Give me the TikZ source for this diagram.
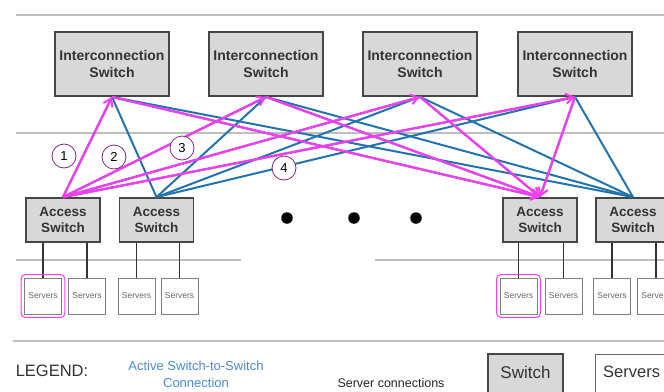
\documentclass[tikz,border=0pt]{standalone}
\usepackage{fontspec}
\setmainfont{Liberation Sans}
\usetikzlibrary{arrows.meta,fit}
\definecolor{boxfill}{RGB}{216,216,216}
\definecolor{boxline}{RGB}{70,70,70}
\definecolor{sepline}{RGB}{190,190,190}
\definecolor{linkblue}{RGB}{35,115,175}
\definecolor{pathpink}{RGB}{242,62,240}
\definecolor{tagpurple}{RGB}{130,40,130}
\definecolor{legendblue}{RGB}{70,140,210}
\tikzset{
  icswitch/.style={draw=boxline, line width=1.8pt, fill=boxfill, minimum width=114pt, minimum height=64pt,
    inner sep=0pt, align=center, font=\fontsize{14}{17}\selectfont\bfseries, text=black!80},
  acswitch/.style={draw=boxline, line width=1.8pt, fill=boxfill, minimum width=74pt, minimum height=44pt,
    inner sep=0pt, align=center, font=\fontsize{13.5}{16}\selectfont\bfseries, text=black!80},
  srv/.style={draw=black!50, line width=0.7pt, fill=white, minimum width=37pt, minimum height=36pt,
    inner sep=0pt, font=\fontsize{8.5}{9}\selectfont, text=black!60},
  srvlink/.style={draw=black!80, line width=1.4pt},
  sep/.style={draw=sepline, line width=2.6pt},
  link/.style={draw=linkblue, line width=2pt},
  path/.style={draw=pathpink, line width=2.3pt, -{Straight Barb[length=7.5pt,width=10pt,line width=2pt]}},
  tag/.style={draw=tagpurple, line width=0.8pt, circle, minimum size=24pt, inner sep=0pt,
    font=\fontsize{13}{13}\selectfont, fill=white},
  hilite/.style={draw=pathpink, line width=1pt, rounded corners=4pt, inner sep=3pt},
  dotmark/.style={fill=black, circle, minimum size=11.5pt, inner sep=0pt},
}
\begin{document}
\begin{tikzpicture}[x=1pt,y=-1pt]
\useasboundingbox (0,0) rectangle (664,391);
\fill[white] (0,0) rectangle (664,391);

% tier separators
\coordinate (s1a) at (16,15);   \coordinate (s1b) at (664,15);
\coordinate (s2a) at (16,133);  \coordinate (s2b) at (664,133);
\coordinate (s3a) at (16,260);  \coordinate (s3b) at (241,260);
\coordinate (s4a) at (375,260); \coordinate (s4b) at (664,260);
\coordinate (s5a) at (13,341);  \coordinate (s5b) at (664,341);
\draw[sep] (s1a) -- (s1b);
\draw[sep] (s2a) -- (s2b);
\draw[sep] (s3a) -- (s3b);
\draw[sep] (s4a) -- (s4b);
\draw[sep] (s5a) -- (s5b);

% interconnection tier
\node[icswitch] (I1) at (112,64) {Interconnection\\Switch};
\node[icswitch] (I2) at (266,64) {Interconnection\\Switch};
\node[icswitch] (I3) at (420,64) {Interconnection\\Switch};
\node[icswitch] (I4) at (575,64) {Interconnection\\Switch};

% access tier
\node[acswitch] (A1) at (63,220) {Access\\Switch};
\node[acswitch] (A2) at (156.5,220) {Access\\Switch};
\node[acswitch] (A3) at (540,220) {Access\\Switch};
\node[acswitch] (A4) at (633,220) {Access\\Switch};

% servers
\node[srv] (S1) at (43,296) {Servers};
\node[srv] (S2) at (87,296) {Servers};
\node[srv] (S3) at (136.5,296) {Servers};
\node[srv] (S4) at (179.5,296) {Servers};
\node[srv] (S5) at (518.5,296) {Servers};
\node[srv] (S6) at (563.5,296) {Servers};
\node[srv] (S7) at (612,296) {Servers};
\node[srv] (S8) at (656,296) {Servers};

\foreach \s/\a in {S1/A1,S2/A1,S3/A2,S4/A2,S5/A3,S6/A3,S7/A4,S8/A4}
  \draw[srvlink] (\s.north) -- (\s.north |- \a.south);

\node[hilite, fit=(S1)] (H1) {};
\node[hilite, fit=(S5)] (H5) {};

% full mesh between tiers
\foreach \a in {A1,A2,A3,A4}
  \foreach \i in {I1,I2,I3,I4}
    \draw[link] (\a.north) -- (\i.south);

% four equal-cost paths
\foreach \i in {I1,I2,I3,I4} {
  \draw[path] (A1.north) -- (\i.south);
  \draw[path] (\i.south) -- (A3.north);
}

\node[tag] (T1) at (64,156) {1};
\node[tag] (T2) at (114,157) {2};
\node[tag] (T3) at (182,148) {3};
\node[tag] (T4) at (284,168) {4};

% ellipsis between access switches
\node[dotmark] (D1) at (287,218) {};
\node[dotmark] (D2) at (354,218) {};
\node[dotmark] (D3) at (416,218) {};

% legend
\node[font=\fontsize{16.5}{18}\selectfont, text=black!80] (L0) at (52,371) {LEGEND:};
\node[font=\fontsize{13}{17}\selectfont, text=legendblue, align=center] (L1) at (196,374) {Active Switch-to-Switch\\Connection};
\node[font=\fontsize{12.5}{14}\selectfont, text=black!85] (L2) at (391,383) {Server connections};
\node[draw=boxline, line width=1.8pt, fill=boxfill, minimum width=75pt, minimum height=46pt,
  inner sep=0pt] (L3) at (525.5,377) {};
\node[font=\fontsize{17}{18}\selectfont, text=black!80] (L3t) at (525.5,372) {Switch};
\node[draw=black!60, line width=1pt, fill=white, minimum width=82pt, minimum height=46pt, inner sep=0pt] (L4) at (636,377) {};
\node[font=\fontsize{16.5}{18}\selectfont, text=black!80, anchor=west, inner sep=0pt] (L4t) at (603,372) {Servers};
\end{tikzpicture}
\end{document}
